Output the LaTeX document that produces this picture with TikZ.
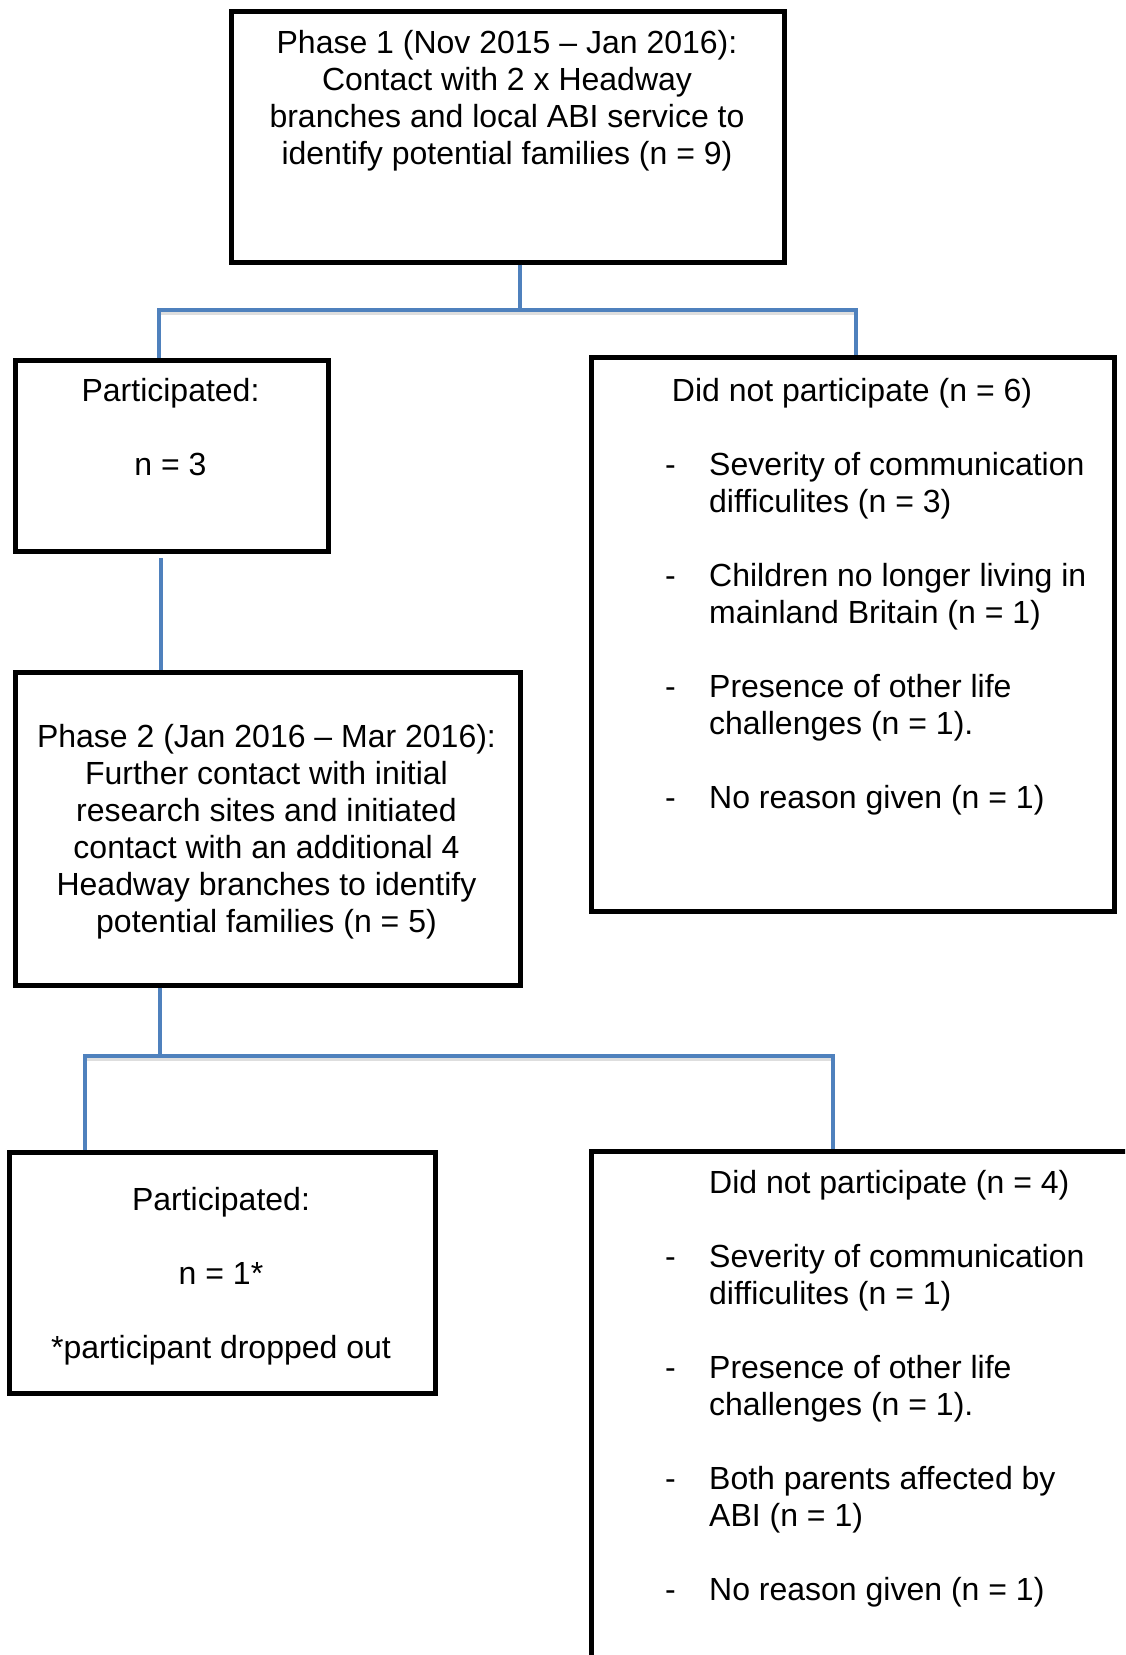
\documentclass[tikz,border=0pt]{standalone}
\usepackage{fontspec}
\setmainfont{Liberation Sans}
\definecolor{connblue}{HTML}{4F81BD}
\tikzset{
  box/.style={rectangle, draw=black, line width=4.5pt, fill=white, anchor=north west, inner sep=0pt},
  conn/.style={draw=connblue, line width=4pt, line join=miter},
  connshadow/.style={draw=black!25, line width=4pt, line join=miter, opacity=0.5},
  txt/.style={inner sep=0pt, font=\fontsize{32}{37}\selectfont},
}
\begin{document}
\begin{tikzpicture}[x=1pt,y=-1pt]
\useasboundingbox (0,0) rectangle (1125,1655);
\clip (0,0) rectangle (1125,1655);
\fill[white] (0,0) rectangle (1125,1655);

% junction coordinates
\coordinate (c1) at (520,310);
\coordinate (c1l) at (159,310);
\coordinate (c1r) at (856,310);
\coordinate (c2) at (161,558);
\coordinate (c3) at (160,1056);
\coordinate (c3l) at (85,1056);
\coordinate (c3r) at (833,1056);

% boxes
\node[box, minimum width=553pt, minimum height=251pt] (b1) at (229,9) {};
\node[box, minimum width=313pt, minimum height=191pt] (b2) at (13,358) {};
\node[box, minimum width=523pt, minimum height=554pt] (b3) at (589,355) {};
\node[box, minimum width=505pt, minimum height=313pt] (b4) at (13,670) {};
\node[box, minimum width=426pt, minimum height=241pt] (b5) at (7,1150) {};
\node[box, minimum width=600pt, minimum height=560pt] (b6) at (589,1149) {};

% connector shadows
\draw[connshadow] ([shift={(1.5pt,-3pt)}]c1l) -- ([shift={(1.5pt,-3pt)}]c1r);
\draw[connshadow] ([shift={(1.5pt,-3pt)}]c3l) -- ([shift={(1.5pt,-3pt)}]c3r);

% connectors
\draw[conn] (b1.south -| c1) -- (c1);
\draw[conn] (b2.north -| c1l) -- (c1l) -- (c1r) -- (b3.north -| c1r);
\draw[conn] (c2) -- (b4.north -| c2);
\draw[conn] (b4.south -| c3) -- (c3);
\draw[conn] (b5.north -| c3l) -- (c3l) -- (c3r) -- (b6.north -| c3r);

% texts
\node[txt, anchor=base] (t1) at (507,53) {\begin{tabular}[t]{@{}c@{}}
Phase 1 (Nov 2015 – Jan 2016):\\
Contact with 2 x Headway\\
branches and local ABI service to\\
identify potential families (n = 9)
\end{tabular}};

\node[txt, anchor=base] (t2) at (170.5,401) {\begin{tabular}[t]{@{}c@{}}
Participated:\\
\\
n = 3
\end{tabular}};

\node[txt, anchor=base] (t3h) at (852,401) {Did not participate (n = 6)};
\node[txt, anchor=base west] (t3) at (665,475) {\begin{tabular}[t]{@{}p{44pt}@{}l@{}}
- & Severity of communication\\
  & difficulites (n = 3)\\
  & \\
- & Children no longer living in\\
  & mainland Britain (n = 1)\\
  & \\
- & Presence of other life\\
  & challenges (n = 1).\\
  & \\
- & No reason given (n = 1)
\end{tabular}};

\node[txt, anchor=base] (t4) at (266.5,747) {\begin{tabular}[t]{@{}c@{}}
Phase 2 (Jan 2016 – Mar 2016):\\
Further contact with initial\\
research sites and initiated\\
contact with an additional 4\\
Headway branches to identify\\
potential families (n = 5)
\end{tabular}};

\node[txt, anchor=base] (t5) at (221,1210) {\begin{tabular}[t]{@{}c@{}}
Participated:\\
\\
n = 1*\\
\\
\relax *participant dropped out
\end{tabular}};

\node[txt, anchor=base west] (t6) at (665,1193) {\begin{tabular}[t]{@{}p{44pt}@{}l@{}}
  & Did not participate (n = 4)\\
  & \\
- & Severity of communication\\
  & difficulites (n = 1)\\
  & \\
- & Presence of other life\\
  & challenges (n = 1).\\
  & \\
- & Both parents affected by\\
  & ABI (n = 1)\\
  & \\
- & No reason given (n = 1)
\end{tabular}};
\end{tikzpicture}
\end{document}
